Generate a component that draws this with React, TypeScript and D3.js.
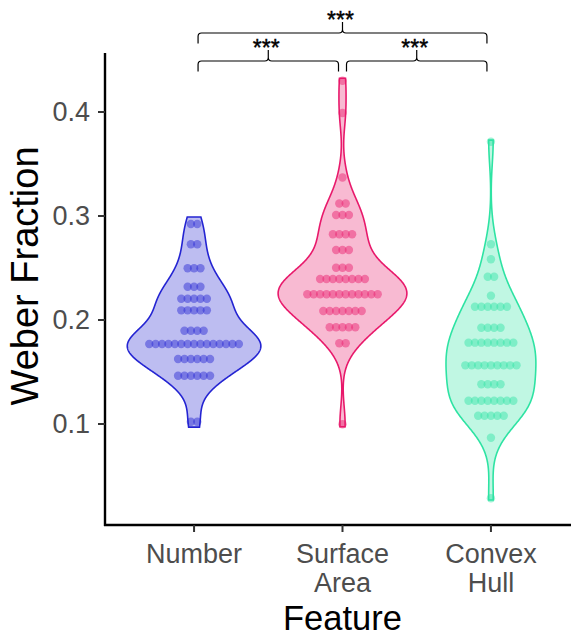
import React from 'react';
import * as d3 from 'd3';

const categories = ['Number', 'Surface Area', 'Convex Hull'];
const tickLabelLines = [['Number'], ['Surface', 'Area'], ['Convex', 'Hull']];
const yTicks = [0.1, 0.2, 0.3, 0.4];

// dot-plot bins (value of bin centre) and number of dots in each bin
const numberLevels = [0.2923, 0.2728, 0.2497, 0.232, 0.2205, 0.2093, 0.1897, 0.1769, 0.1625, 0.1464, 0.1022];
const numberCounts = [2, 2, 3, 3, 5, 5, 4, 15, 6, 6, 2];
const numberRange = [0.097, 0.299];

const surfaceLevels = [0.43, 0.399, 0.337, 0.312, 0.301, 0.2824, 0.2673, 0.2503, 0.2394, 0.2247, 0.2087, 0.193, 0.1776, 0.0997];
const surfaceCounts = [1, 1, 1, 2, 3, 4, 3, 3, 8, 12, 7, 5, 2, 1];
const surfaceRange = [0.0974, 0.4324];

const hullLevels = [0.3714, 0.2728, 0.2584, 0.2416, 0.2234, 0.2128, 0.1926, 0.1782, 0.1564, 0.1382, 0.1224, 0.108, 0.0868, 0.0286];
const hullCounts = [1, 1, 1, 2, 1, 6, 4, 8, 9, 4, 8, 5, 1, 1];
const hullRange = [0.0269, 0.373];

const groupColors = ['#2424D2', '#E8196B', '#2EE3A3'];

const comparisons = [
  { a: 0, b: 1, level: 0, label: '***' },
  { a: 1, b: 2, level: 0, label: '***' },
  { a: 0, b: 2, level: 1, label: '***' },
];

const W = 571;
const H = 636;

function expand(levels: number[], counts: number[]) {
  const out: number[] = [];
  levels.forEach((v, i) => {
    for (let k = 0; k < counts[i]; k++) out.push(v);
  });
  return out;
}

function nrd0(vals: number[]) {
  const s = vals.slice().sort((a, b) => a - b);
  const sd = d3.deviation(s) as number;
  const iqr = (d3.quantile(s, 0.75) as number) - (d3.quantile(s, 0.25) as number);
  const lo = Math.min(sd, iqr / 1.34);
  return 0.9 * lo * Math.pow(s.length, -0.2);
}

function kde(vals: number[], bw: number, grid: number[]) {
  const n = vals.length;
  return grid.map((y) => {
    let s = 0;
    for (const v of vals) {
      const u = (y - v) / bw;
      s += Math.exp(-0.5 * u * u);
    }
    return s / (n * bw * Math.sqrt(2 * Math.PI));
  });
}

export default function App() {
  const x = d3.scalePoint<string>().domain(categories).range([105, 580]).padding(0.6);
  const y = d3.scaleLinear().domain([0.1, 0.4]).range([424, 112]);
  const step = x.step();

  const groups = [
    { levels: numberLevels, counts: numberCounts, range: numberRange },
    { levels: surfaceLevels, counts: surfaceCounts, range: surfaceRange },
    { levels: hullLevels, counts: hullCounts, range: hullRange },
  ].map((g) => {
    const vals = expand(g.levels, g.counts);
    const bw = nrd0(vals);
    const grid = d3.range(512).map((i) => g.range[0] + ((g.range[1] - g.range[0]) * i) / 511);
    const dens = kde(vals, bw, grid);
    return { ...g, grid, dens };
  });
  const maxDens = d3.max(groups, (g) => d3.max(g.dens) as number) as number;

  const dotR = 4.2;
  const dotStep = 6.4;

  const axisX = 105;
  const axisY = 525;

  const bracketPath = (x1: number, x2: number, yl: number) => {
    const xm = (x1 + x2) / 2;
    const r = 3.5;
    const drop = 10.5;
    const rise = 11;
    return (
      `M${x1},${yl + drop} L${x1},${yl + r} Q${x1},${yl} ${x1 + r},${yl} L${xm - r},${yl} Q${xm},${yl} ${xm},${yl - r} L${xm},${yl - rise} ` +
      `M${xm},${yl - rise} L${xm},${yl - r} Q${xm},${yl} ${xm + r},${yl} L${x2 - r},${yl} Q${x2},${yl} ${x2},${yl + r} L${x2},${yl + drop}`
    );
  };
  const levelY = [61, 33];

  return (
    <svg width={W} height={H} style={{ position: 'absolute', left: 0, top: 0, background: '#fff' }} fontFamily="'Liberation Sans', Arial, Helvetica, sans-serif">
      {groups.map((g, gi) => {
        const cx = x(categories[gi]) as number;
        const area = d3
          .area<number>()
          .y((_, i) => y(g.grid[i]))
          .x0((d) => cx - (0.45 * step * d) / maxDens)
          .x1((d) => cx + (0.45 * step * d) / maxDens);
        const col = groupColors[gi];
        return (
          <g key={gi}>
            <path d={area(g.dens) as string} fill={col} fillOpacity={0.3} stroke={col} strokeWidth={1.6} />
            {g.levels.map((v, li) => {
              const n = g.counts[li];
              return d3.range(n).map((k) => (
                <circle
                  key={`${li}-${k}`}
                  cx={cx + (k - (n - 1) / 2) * dotStep}
                  cy={y(v)}
                  r={dotR}
                  fill={col}
                  fillOpacity={0.45}
                />
              ));
            })}
          </g>
        );
      })}

      {/* axes */}
      <line x1={axisX} x2={axisX} y1={53} y2={axisY + 1} stroke="#000" strokeWidth={2.4} />
      <line x1={axisX - 1} x2={W} y1={axisY} y2={axisY} stroke="#000" strokeWidth={2.4} />
      {yTicks.map((t) => (
        <g key={t}>
          <line x1={axisX - 7} x2={axisX} y1={y(t)} y2={y(t)} stroke="#333" strokeWidth={2} />
          <text x={axisX - 15} y={y(t)} dy="0.35em" textAnchor="end" fontSize={27} fill="#4D4D4D">
            {t.toFixed(1)}
          </text>
        </g>
      ))}
      {categories.map((c, i) => (
        <g key={c}>
          <line x1={x(c)} x2={x(c)} y1={axisY} y2={axisY + 7} stroke="#333" strokeWidth={2} />
          {tickLabelLines[i].map((s, j) => (
            <text key={j} x={x(c)} y={563 + j * 29} textAnchor="middle" fontSize={27} fill="#4D4D4D">
              {s}
            </text>
          ))}
        </g>
      ))}
      <text x={342.5} y={630} textAnchor="middle" fontSize={34.5} fill="#000">
        Feature
      </text>
      <text transform="translate(38,276) rotate(-90)" textAnchor="middle" fontSize={38} fill="#000">
        Weber Fraction
      </text>

      {/* significance brackets */}
      {comparisons.map((c, i) => {
        const x1 = (x(categories[c.a]) as number) + 4;
        const x2 = (x(categories[c.b]) as number) - 4;
        const yl = levelY[c.level];
        return (
          <g key={i}>
            <path d={bracketPath(x1, x2, yl)} fill="none" stroke="#000" strokeWidth={1.2} />
            <text x={(x1 + x2) / 2 - 2} y={yl - 5} textAnchor="middle" fontSize={23} fill="#000" stroke="#000" strokeWidth={0.4}>
              {c.label}
            </text>
          </g>
        );
      })}
    </svg>
  );
}
